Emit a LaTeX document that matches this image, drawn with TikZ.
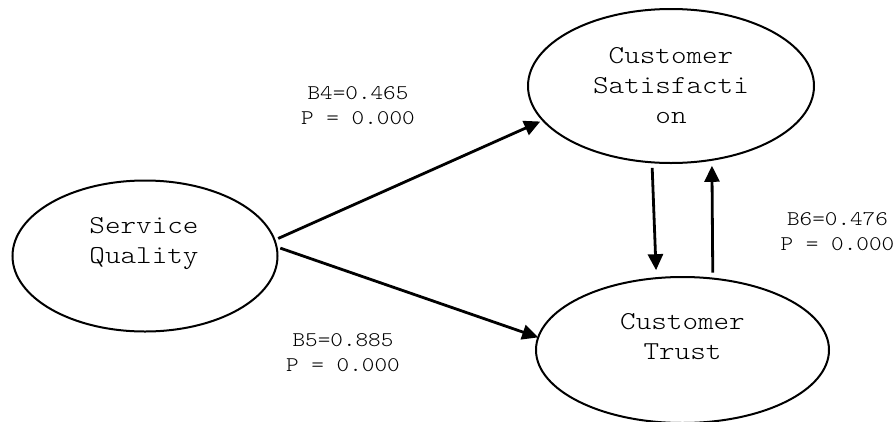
\documentclass[tikz,border=0pt]{standalone}
\usepackage{fontspec}
\setmainfont{Latin Modern Mono Light}[FakeStretch=1.15]
\usetikzlibrary{arrows.meta,shapes.geometric}
\tikzset{
  construct/.style={draw, ellipse, line width=2pt, inner sep=0pt, outer sep=0pt},
  conname/.style={inner sep=0pt, align=center, font=\fontsize{25.8pt}{30pt}\selectfont},
  coef/.style={inner sep=0pt, align=center, font=\fontsize{20.9pt}{25pt}\selectfont},
  sempath/.style={line width=2.8pt, -{Triangle[length=16pt,width=15pt]}},
}
\begin{document}
\begin{tikzpicture}[x=1pt, y=-1pt]
  \useasboundingbox (0,0) rectangle (895,421);
  \clip (0,0) rectangle (895,421);

  % constructs
  \node[construct, minimum width=265pt, minimum height=151pt] (sq) at (145,256) {};
  \node[construct, minimum width=286pt, minimum height=154pt] (cs) at (671,86) {};
  \node[construct, minimum width=293pt, minimum height=146pt] (ct) at (682.5,350) {};

  \node[conname] (sqtext) at (144,243.5) {Service\\Quality};
  \node[conname] (cstext) at (671,86) {Customer\\Satisfacti\\on};
  \node[conname] (cttext) at (682.5,336.5) {Customer\\Trust};

  % structural paths
  \draw[sempath, shorten <=4pt, shorten >=3pt] (sq.7.7) -- (cs.195.5);
  \draw[sempath, shorten <=4pt] (sq.4.6) -- (ct.175.2);
  \draw[sempath, shorten <=5.6pt, shorten >=8pt] (cs.256.7) -- (ct.110.3);
  \draw[sempath, shorten <=6pt, shorten >=6pt] (ct.67.6) -- (cs.299.1);

  % path coefficients
  \node[coef] (b4) at (358,106) {B4=0.465\\P = 0.000};
  \node[coef] (b5) at (343,352.5) {B5=0.885\\P = 0.000};
  \node[coef] (b6) at (837.5,231.5) {B6=0.476\\P = 0.000};
\end{tikzpicture}
\end{document}
